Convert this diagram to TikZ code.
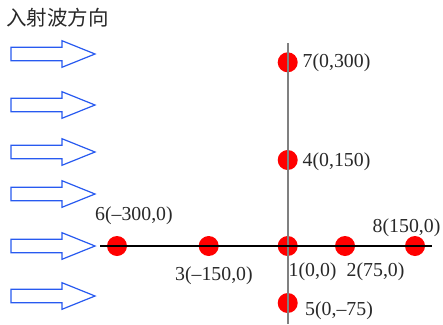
\documentclass[tikz,border=0pt]{standalone}
\usepackage{fontspec}
\setmainfont{Liberation Serif}
\newfontfamily\cjkfont{Noto Sans CJK SC}
\definecolor{arrowblue}{RGB}{40,90,240}
\definecolor{txtgray}{RGB}{40,40,40}
\begin{document}
\begin{tikzpicture}[x=1pt,y=-1pt,
  dot/.style={circle,fill=red,inner sep=0pt,minimum size=20pt},
  lbl/.style={anchor=west,inner sep=0pt,text=txtgray,font=\fontsize{19.8}{20}\selectfont},
  wavearrow/.style={draw=arrowblue,line width=1.2pt,fill=white,line join=miter},
  haxis/.style={draw=black,line width=1.4pt},
  vaxis/.style={draw=gray,line width=2pt}]
\useasboundingbox (0,0) rectangle (443,324);
% title
\node[anchor=west,inner sep=0pt,text=txtgray,font=\cjkfont\fontsize{20.5}{21}\selectfont] (title) at (6,18) {入射波方向};
% incident arrows
\foreach \yy in {54,105,152,194,246,296}{
  \draw[wavearrow] (11,\yy-6.7) -- (62,\yy-6.7) -- (62,\yy-13.3) -- (95,\yy) -- (62,\yy+13.3) -- (62,\yy+6.7) -- (11,\yy+6.7) -- cycle;
}
% dots
\node[dot] (p6) at (117,246) {};
\node[dot] (p3) at (208.7,246) {};
\node[dot] (p1) at (287.7,246) {};
\node[dot] (p2) at (345,246) {};
\node[dot] (p8) at (415,246) {};
\node[dot] (p5) at (287.7,303) {};
\node[dot] (p4) at (287.7,160) {};
\node[dot] (p7) at (287.7,62.3) {};
% axes
\coordinate (axL) at (100,246);
\coordinate (axR) at (432,246);
\coordinate (axT) at (287.7,43);
\coordinate (axB) at (287.7,324);
\draw[vaxis] (axT) -- (axB);
\draw[haxis] (axL) -- (axR);
% labels
\node[lbl] (l6) at (95,216) {6(–300,0)};
\node[lbl] (l3) at (175,275.5) {3(–150,0)};
\node[lbl] (l1) at (288.5,271.5) {1(0,0)};
\node[lbl] (l2) at (346.5,271.5) {2(75,0)};
\node[lbl] (l8) at (372.5,228) {8(150,0)};
\node[lbl] (l5) at (305,310.5) {5(0,–75)};
\node[lbl] (l7) at (302.5,63) {7(0,300)};
\node[lbl] (l4) at (302.5,162) {4(0,150)};
\end{tikzpicture}
\end{document}
